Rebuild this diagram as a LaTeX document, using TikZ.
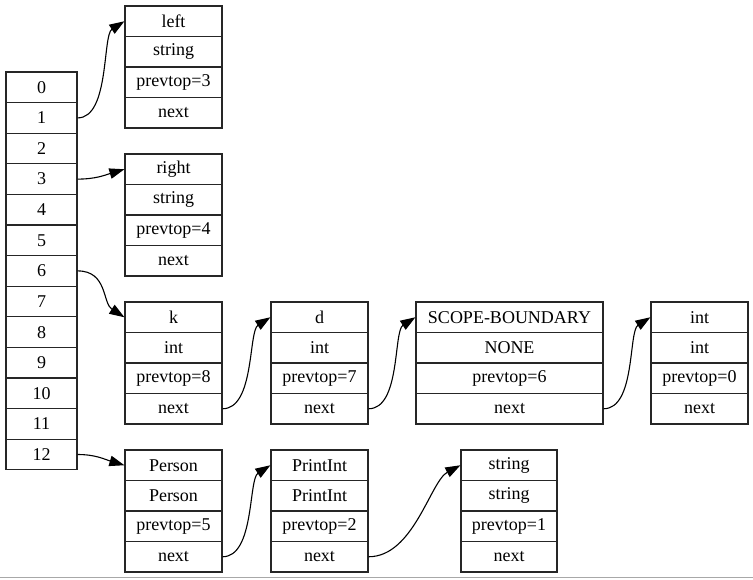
\documentclass[tikz,border=0pt]{standalone}
\usepackage{fontspec}
\setmainfont{Liberation Serif}
\usetikzlibrary{arrows.meta}
\definecolor{edgegray}{HTML}{A8A8A8}
\tikzset{
  x=1pt, y=-1pt,
  cell/.style={draw=black!85, line width=1.2pt, inner sep=0pt, minimum height=30.6pt,
               font=\fontsize{18}{20}\selectfont, anchor=center},
  link/.style={draw=black, line width=1.1pt, -{Triangle[length=15pt,width=10.5pt]}},
}
% \recbox{prefix}{x-center}{top y}{width}{t1}{t2}{t3}{t4}
\newcommand\recbox[8]{%
  \node[cell, minimum width=#4pt] (#1-1) at (#2, #3+15.25) {#5};
  \node[cell, minimum width=#4pt] (#1-2) at (#2, #3+45.75) {#6};
  \node[cell, minimum width=#4pt] (#1-3) at (#2, #3+76.25) {#7};
  \node[cell, minimum width=#4pt] (#1-4) at (#2, #3+106.75) {#8};
}
\begin{document}
\begin{tikzpicture}
\useasboundingbox (0,0) rectangle (753,579);
% array
\foreach \i in {0,...,12} {
  \node[cell, minimum width=71pt] (a\i) at (41.5, {72+30.6*(\i+0.5)}) {\i};
}
% records
\recbox{left}{173.5}{6}{97}{left}{string}{prevtop=3}{next}
\recbox{right}{173.5}{154}{97}{right}{string}{prevtop=4}{next}
\recbox{k}{173.5}{302}{97}{k}{int}{prevtop=8}{next}
\recbox{d}{319.5}{302}{97}{d}{int}{prevtop=7}{next}
\recbox{sb}{509.5}{302}{187}{SCOPE-BOUNDARY}{NONE}{prevtop=6}{next}
\recbox{int}{699.5}{302}{97}{int}{int}{prevtop=0}{next}
\recbox{person}{173.5}{450}{97}{Person}{Person}{prevtop=5}{next}
\recbox{pint}{319.5}{450}{97}{PrintInt}{PrintInt}{prevtop=2}{next}
\recbox{str}{509}{450}{96}{string}{string}{prevtop=1}{next}
% connectors
\draw[link] (a1.east) .. controls +(32,0) and +(-22,14) .. (left-1.west);
\draw[link] (a3.east) .. controls +(18,0) and +(-20,6) .. (right-1.west);
\draw[link] (a6.east) .. controls +(30,0) and +(-22,-14) .. (k-1.west);
\draw[link] (a12.east) .. controls +(18,0) and +(-20,-6) .. (person-1.west);
\draw[link] (k-4.east) .. controls +(32,0) and +(-22,14) .. (d-1.west);
\draw[link] (d-4.east) .. controls +(32,0) and +(-22,14) .. (sb-1.west);
\draw[link] (sb-4.east) .. controls +(32,0) and +(-22,14) .. (int-1.west);
\draw[link] (person-4.east) .. controls +(32,0) and +(-22,14) .. (pint-1.west);
\draw[link] (pint-4.east) .. controls +(45,0) and +(-30,16) .. (str-1.west);
% bottom border line
\draw[edgegray, line width=1.5pt] (0,577.5) -- (753,577.5);
\end{tikzpicture}
\end{document}
